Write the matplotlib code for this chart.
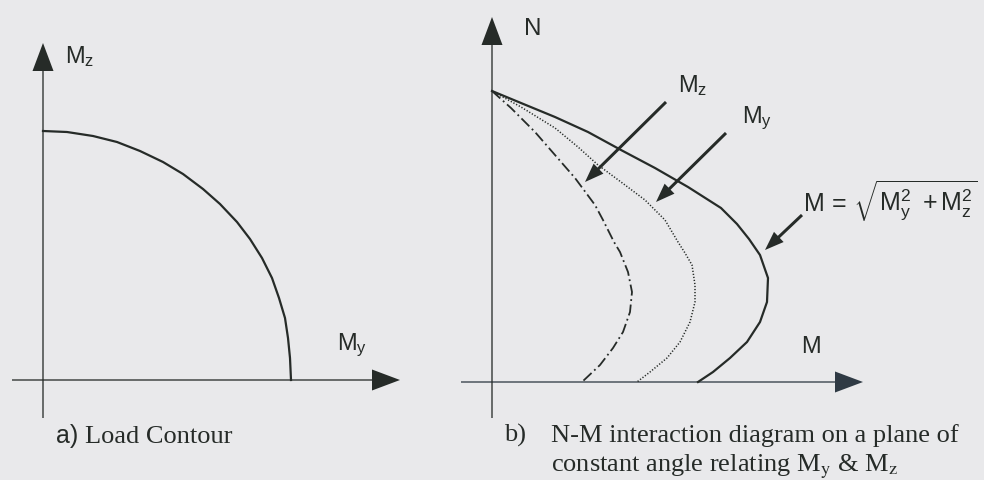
import numpy as np
import matplotlib
matplotlib.use('Agg')
from matplotlib import pyplot as plt

plt.rcParams['mathtext.fontset'] = 'custom'
plt.rcParams['mathtext.rm'] = 'Liberation Sans'
plt.rcParams['mathtext.it'] = 'Liberation Sans'
plt.rcParams['mathtext.bf'] = 'Liberation Sans:bold'
plt.rcParams['lines.scale_dashes'] = False

bg = '#e9e9eb'
ink = '#262b28'

# a) load contour, My vs Mz (origin at axes crossing)
contour_my = [0, 24, 50, 74, 97, 120, 140, 160, 177, 194, 207, 219, 229, 236,
              242, 245, 247, 248]
contour_mz = [249, 248, 244, 238, 229, 218, 206, 191, 176, 158, 141, 122, 102,
              82, 62, 42, 22, 0]

# b) N-M interaction curves (M, N)
m_total = [0, 29, 63, 96, 129, 163, 196, 229, 245, 257, 268, 276, 275, 268,
           255, 238, 221, 206]
n_total = [291, 279, 265, 250, 232, 214, 195, 174, 158, 143, 127, 104, 80, 60,
           40, 24, 10, 0]
m_y = [0, 29, 63, 86, 106, 129, 153, 173, 186, 193, 200, 203, 203, 198, 188,
       175, 158, 145]
n_y = [291, 275, 254, 235, 217, 200, 182, 162, 140, 129, 117, 97, 80, 60, 40,
       24, 10, 0]
m_z = [0, 19, 43, 63, 83, 103, 111, 122, 128, 136, 140, 138, 131, 121, 108, 90]
n_z = [291, 274, 250, 227, 204, 177, 162, 140, 130, 110, 90, 70, 50, 34, 17, 0]

fig = plt.figure(figsize=(9.84, 4.8), dpi=100, facecolor=bg)
ax1 = fig.add_axes([0, 0, 440 / 984, 1])
ax2 = fig.add_axes([440 / 984, 0, 544 / 984, 1])
ax1.set_xlim(-43, 397)
ax1.set_ylim(-100, 380)
ax2.set_xlim(-52, 492)
ax2.set_ylim(-98, 382)
for ax in (ax1, ax2):
    ax.set_facecolor(bg)
    ax.axis('off')


def axis_arrow(ax, x0, y0, dx, dy, color=ink):
    ax.arrow(x0, y0, dx, dy, width=1.3, head_width=21, head_length=28,
             length_includes_head=True, color=color, lw=0)


def pointer(ax, start, tip):
    ax.arrow(start[0], start[1], tip[0] - start[0], tip[1] - start[1], width=3,
             head_width=14, head_length=19, length_includes_head=True,
             color=ink, lw=0)


# left panel
axis_arrow(ax1, -31, 0, 388, 0)
axis_arrow(ax1, 0, -38, 0, 375)
ax1.plot(contour_my, contour_mz, color=ink, lw=1.6, solid_joinstyle='round')
ax1.text(22, 317, r'$\mathrm{M_z}$', fontsize=17, color=ink, va='baseline')
ax1.text(294, 30, r'$\mathrm{M_y}$', fontsize=17, color=ink, va='baseline')
ax1.text(13, -63, 'a)', fontsize=18, family='Liberation Sans', color=ink,
         va='baseline')
ax1.text(42, -63, 'Load Contour', fontsize=19, family='Liberation Serif',
         color=ink, va='baseline')

# right panel
axis_arrow(ax2, -31, 0, 402, 0, color='#2f3a44')
axis_arrow(ax2, 0, -36, 0, 401)
ax2.plot(m_total, n_total, color=ink, lw=1.6, solid_joinstyle='round')
ax2.plot(m_y, n_y, color=ink, lw=1.1, linestyle=(0, (0.9, 1.3)))
ax2.plot(m_z, n_z, color=ink, lw=1.3, linestyle=(0, (8, 2.6, 1.3, 2.6)))

pointer(ax2, (174, 280), (93, 200))
pointer(ax2, (234, 249), (164, 180))
pointer(ax2, (310, 167), (273, 132))

ax2.text(31, 347, r'$\mathrm{N}$', fontsize=17.5, color=ink, va='baseline')
ax2.text(186, 290, r'$\mathrm{M_z}$', fontsize=17, color=ink, va='baseline')
ax2.text(250, 259, r'$\mathrm{M_y}$', fontsize=17, color=ink, va='baseline')
ax2.text(309, 29, r'$\mathrm{M}$', fontsize=17, color=ink, va='baseline')
ax2.text(311, 171, r'$\mathrm{M\,=\,\sqrt{M_y^2\ +M_z^2}}$', fontsize=18,
         color=ink, va='baseline')

ax2.text(12, -60, 'b)', fontsize=19, family='Liberation Serif', color=ink,
         va='baseline')
ax2.text(59, -60, 'N-M interaction diagram on a plane of', fontsize=19,
         family='Liberation Serif', color=ink, va='baseline')
ax2.text(59, -89, r'constant angle relating M$_\mathrm{y}$ & M$_\mathrm{z}$',
         fontsize=19, family='Liberation Serif', math_fontfamily='stix',
         color=ink, va='baseline')

fig.savefig('out.png', dpi=100, facecolor=bg)
